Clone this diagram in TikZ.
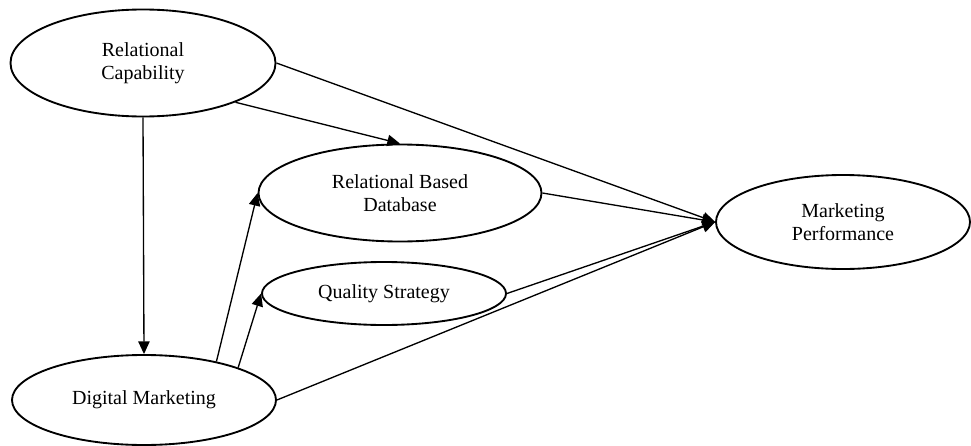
\documentclass[tikz,border=0pt]{standalone}
\usepackage{fontspec}
\setmainfont{Liberation Serif}
\usetikzlibrary{shapes.geometric,arrows.meta}
\begin{document}
\begin{tikzpicture}[x=0.75pt,y=-0.75pt,
  oval/.style={draw,ellipse,line width=1.4pt,inner sep=0pt,align=center,
    font=\fontsize{15pt}{17pt}\selectfont},
  link/.style={line width=1pt,-{Triangle[length=9.5pt,width=8.5pt]}},
  plain/.style={line width=1pt}]
\useasboundingbox (0,0) rectangle (971,446);
\node[oval,minimum width=265*0.75pt,minimum height=107*0.75pt] (RC) at (143,63) {Relational\\Capability};
\node[oval,minimum width=283*0.75pt,minimum height=97*0.75pt] (RBD) at (400,193) {Relational Based\\Database};
\node[oval,minimum width=244*0.75pt,minimum height=63*0.75pt] (QS) at (384,293.5) {Quality Strategy};
\node[oval,minimum width=264*0.75pt,minimum height=90*0.75pt] (DM) at (144,400) {Digital Marketing};
\node[oval,minimum width=254*0.75pt,minimum height=94*0.75pt] (MP) at (843,222) {Marketing\\Performance};
\draw[link] (RC.south) -- (DM.north);
\draw[link] (RC.-23) -- (RBD.north);
\draw[link] (RC.east) -- (MP.west);
\draw[link] (RBD.east) -- (MP.west);
\draw[link] (QS.east) -- (MP.west);
\draw[link] (DM.east) -- (MP.west);
\draw[link] (DM.28.8) -- (RBD.west);
\draw[link] (DM.19) -- (QS.west);
\end{tikzpicture}
\end{document}
